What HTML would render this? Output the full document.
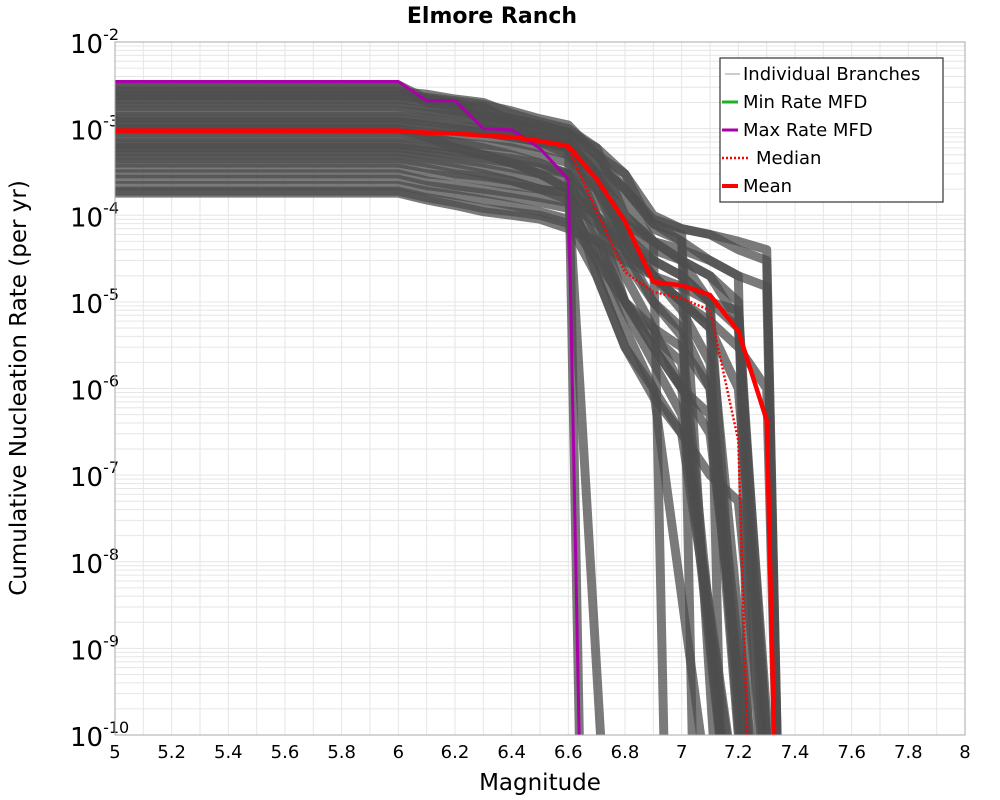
<!DOCTYPE html>
<html><head><meta charset="utf-8"><style>
html,body{margin:0;padding:0;overflow:hidden;background:#fff;font-family:"Liberation Sans","DejaVu Sans",sans-serif}
svg{display:block}
svg text{font-family:"DejaVu Sans","Liberation Sans",sans-serif}
</style></head><body>
<svg id="chart" width="1000" height="800" xmlns="http://www.w3.org/2000/svg">
<text x="492" y="23" text-anchor="middle" font-size="22" font-weight="bold">Elmore Ranch</text>
<text transform="translate(26,388) rotate(-90)" text-anchor="middle" font-size="23">Cumulative Nucleation Rate (per yr)</text>
<text x="540" y="790" text-anchor="middle" font-size="23">Magnitude</text>
<g id="grid"></g>
<g id="ticks"></g>
<defs><clipPath id="clip"><rect x="115" y="42" width="850" height="693"/></clipPath></defs>
<g id="branches" clip-path="url(#clip)"></g>
<g id="main" clip-path="url(#clip)"></g>
<rect x="115" y="42" width="850" height="693" fill="none" stroke="#aaa" stroke-width="1"/>
<g>
<rect x="720" y="58" width="223" height="144" fill="#fff" stroke="#333" stroke-width="1.2"/>
<g><line x1="725" y1="74" x2="740" y2="74" stroke="#999" stroke-width="1"/><text x="743" y="80" font-size="18">Individual Branches</text></g>
<g><line x1="722" y1="102" x2="738" y2="102" stroke="#1db31d" stroke-width="3"/><text x="743" y="108" font-size="18">Min Rate MFD</text></g>
<g><line x1="722" y1="130" x2="738" y2="130" stroke="#a0a" stroke-width="3"/><text x="743" y="136" font-size="18">Max Rate MFD</text></g>
<g><line x1="722" y1="158" x2="748" y2="158" stroke="#f00" stroke-width="2.5" stroke-dasharray="2,2"/><text x="756" y="164" font-size="18">Median</text></g>
<g><line x1="722" y1="186" x2="738" y2="186" stroke="#f00" stroke-width="4"/><text x="743" y="192" font-size="18">Mean</text></g>
</g>
</svg>
<script>
const xTicks=[5,5.2,5.4,5.6,5.8,6,6.2,6.4,6.6,6.8,7,7.2,7.4,7.6,7.8,8];
const yExps=[-2,-3,-4,-5,-6,-7,-8,-9,-10];
const mags=[5,6,6.1,6.2,6.3,6.4,6.5,6.6,6.7,6.8,6.9,7.0,7.1,7.2,7.3];
const meanVals=[9.5e-4,9.5e-4,9e-4,8.8e-4,8.3e-4,8e-4,7.2e-4,6.3e-4,2.6e-4,8.5e-5,1.7e-5,1.55e-5,1.2e-5,4.6e-6,4.3e-7];
const meanCut=7.34;
const medianVals=[9e-4,9e-4,8.8e-4,8.5e-4,8.2e-4,7.8e-4,7e-4,6e-4,1.1e-4,2.2e-5,1.3e-5,1.1e-5,8e-6,2.5e-7];
const medianCut=7.25;
const maxVals=[3.5e-3,3.5e-3,2.1e-3,2.1e-3,1e-3,9.7e-4,5.9e-4,2.6e-4];
const maxCut=6.65;
const branchVals=[
[3.2e-3,3.2e-3,2.2e-3,2e-3,1.2e-3,1e-3,7e-4,5e-4,3e-4,1.5e-4,5e-5,3e-5,1e-5],
[3e-3,3e-3,2e-3,1.9e-3,1.8e-3,1.2e-3,1e-3,9e-4,4e-4,2e-4,8e-5,6e-5],
[2.7e-3,2.7e-3,2.5e-3,2.2e-3,2e-3,1.5e-3,1.2e-3,1e-3,6e-4,1e-4,5e-5],
[2.5e-3,2.5e-3,2.3e-3,2.1e-3,1.9e-3,1.6e-3,1.3e-3,1.1e-3,5e-4,3e-4,7e-5,5e-5,3e-5,2e-5],
[2.2e-3,2.2e-3,2e-3,1.8e-3,1.5e-3,1.2e-3,9e-4,7e-4,3e-4,5e-5,2e-5,1e-5,5e-6,1e-6],
[2e-3,2e-3,1.8e-3,1.6e-3,1.4e-3,1.2e-3,1e-3,8e-4],
[1.8e-3,1.8e-3,1.6e-3,1.5e-3,1.4e-3,1.3e-3,1.1e-3,9e-4,5e-4,2e-4,9e-5,7e-5,6e-5,5e-5,4e-5],
[1.6e-3,1.6e-3,1.5e-3,1.4e-3,1.2e-3,1e-3,8e-4,6e-4,2e-4,4e-5,1e-5,5e-6,1e-6],
[1.4e-3,1.4e-3,1.3e-3,1.2e-3,1.1e-3,1e-3,8e-4,7e-4,3e-4,1e-4,5e-5,3e-5,2e-5,6e-6],
[1.3e-3,1.3e-3,1.2e-3,1.1e-3,1e-3,9e-4,8e-4,7e-4,4e-4,2e-4,8e-5,5e-5],
[1.2e-3,1.2e-3,1.1e-3,1e-3,9e-4,8e-4,7e-4,6e-4,1e-4,1e-5,3e-6,1e-6,3e-7],
[1.1e-3,1.1e-3,1e-3,9.5e-4,9e-4,8e-4,7e-4,6e-4,3e-4,7e-5,4e-5,3e-5,2e-5,1e-5],
[1e-3,1e-3,9e-4,8.5e-4,8e-4,7e-4,6e-4,5e-4,2e-4,6e-5,2e-5,8e-6,2e-6],
[9e-4,9e-4,8e-4,7e-4,6e-4,5e-4,4e-4,3e-4,1e-4,2e-5,5e-6,1e-6],
[8e-4,8e-4,7.5e-4,7e-4,6.5e-4,6e-4,5e-4,4e-4,2e-4,8e-5,5e-5,4e-5,3e-5,2e-5,1.5e-5],
[7e-4,7e-4,6.5e-4,6e-4,5e-4,4.5e-4,4e-4,3e-4,1e-4,3e-5,1e-5,4e-6],
[6.5e-4,6.5e-4,6e-4,5.5e-4,5e-4,4e-4,3e-4,2e-4],
[6e-4,6e-4,5.5e-4,5e-4,4.5e-4,4e-4,3.5e-4,3e-4,1.5e-4,6e-5,3e-5,2e-5,1e-5,5e-6],
[5.5e-4,5.5e-4,5e-4,4.5e-4,4e-4,3.5e-4,3e-4,2.5e-4,6e-5,1e-5,3e-6,1e-6,5e-7],
[5e-4,5e-4,4.5e-4,4e-4,3.5e-4,3e-4,2.5e-4,2e-4,1e-4,5e-5,3e-5,2e-5,1e-5],
[4.5e-4,4.5e-4,4e-4,3.5e-4,3e-4,2.5e-4,2e-4,1.5e-4,3e-5,5e-6,1e-6],
[4e-4,4e-4,3.5e-4,3e-4,2.8e-4,2.5e-4,2e-4,1.8e-4,1e-4,4e-5,2e-5,1e-5,6e-6,3e-6,1e-6],
[3.5e-4,3.5e-4,3e-4,2.8e-4,2.5e-4,2.2e-4,2e-4,1.8e-4,5e-5,1e-5,4e-6,2e-6],
[3e-4,3e-4,2.5e-4,2.2e-4,2e-4,1.8e-4,1.6e-4,1.4e-4,8e-5,4e-5,2e-5,1.5e-5,1e-5,8e-6],
[2.6e-4,2.6e-4,2.2e-4,2e-4,1.8e-4,1.6e-4,1.4e-4,1.2e-4,4e-5,8e-6,2e-6,5e-7],
[2.2e-4,2.2e-4,1.9e-4,1.7e-4,1.5e-4,1.3e-4,1.1e-4,9e-5,3e-5,1e-5,5e-6,3e-6,1e-6],
[1.9e-4,1.9e-4,1.6e-4,1.4e-4,1.2e-4,1.1e-4,1e-4,8e-5,2e-5,3e-6,1e-6,3e-7],
[1.8e-4,1.8e-4,1.5e-4,1.3e-4,1.1e-4,1e-4,9e-5,7e-5,5e-5,3e-5,2e-5,1e-5,5e-6],
[1e-3,1e-3,8e-4,6e-4,5e-4,4e-4,3e-4,2e-4,2e-5,3e-6,8e-7,3e-7,1e-7,5e-8],
[2.4e-3,2.4e-3,2.2e-3,2e-3,1.6e-3,1.3e-3,1.1e-3,9e-4,6e-4,3e-4,1e-4,7e-5,6e-5,4e-5,3e-5]
];
const branchCuts=[7.15,7.05,6.95,7.25,7.35,6.65,7.35,7.25,7.3,7.15,7.3,7.32,7.25,7.2,7.35,7.2,6.75,7.35,7.28,7.25,7.15,7.35,7.2,7.34,7.25,7.3,7.25,7.3,7.34,7.35];

const X0=115,X1=965,Y0=42,Y1=735;
const xs=m=>X0+(m-5)/3*(X1-X0);
const ys=v=>{const l=Math.log10(Math.max(v,1e-12));return Y0+(-2-l)/8*(Y1-Y0);};
const NS='http://www.w3.org/2000/svg';
function mk(tag,attrs,parent){const e=document.createElementNS(NS,tag);for(const k in attrs)e.setAttribute(k,attrs[k]);parent.appendChild(e);return e;}
const grid=document.getElementById('grid'),ticks=document.getElementById('ticks');
for(let i=0;i<=30;i++){const x=xs(5+i*0.1);const l=mk('line',{x1:x,x2:x,y1:Y0,y2:Y1,stroke:'#e6e6e6','stroke-width':1},grid);

}
for(let e=-10;e<-2;e++)for(let k=1;k<10;k++){const y=ys(k*Math.pow(10,e));const l=mk('line',{x1:X0,x2:X1,y1:y,y2:y,stroke:'#e6e6e6','stroke-width':1},grid);

}
xTicks.forEach(t=>{const tx=mk('text',{x:xs(t),y:758,'text-anchor':'middle','font-size':18},ticks);tx.textContent=String(t);

});
yExps.forEach(e=>{const y=ys(Math.pow(10,e));const tx=mk('text',{x:70,y:y+11,'font-size':26},ticks);tx.textContent='10';


const sp=mk('tspan',{dy:-13,'font-size':16},tx);sp.textContent=String(e);});
function pathFor(vals,cut){let pts=vals.map((v,i)=>[xs(mags[i]),ys(v)]);pts.push([xs(cut),ys(1e-12)]);return 'M'+pts.map(p=>p[0].toFixed(1)+','+p[1].toFixed(1)).join('L');}
const bg=document.getElementById('branches');
branchVals.forEach((b,i)=>{const p=mk('path',{d:pathFor(b,branchCuts[i]),fill:'none',stroke:'#4d4d4d','stroke-width':9,'stroke-opacity':0.75,'stroke-linejoin':'round'},bg);

});
const mg=document.getElementById('main');
const pMax=mk('path',{d:pathFor(maxVals,maxCut),fill:'none',stroke:'#a0a','stroke-width':3},mg);


const pMed=mk('path',{d:pathFor(medianVals,medianCut),fill:'none',stroke:'#f00','stroke-width':2.5,'stroke-dasharray':'2,2'},mg);


const pMean=mk('path',{d:pathFor(meanVals,meanCut),fill:'none',stroke:'#f00','stroke-width':4.5},mg);


</script>
</body></html>
